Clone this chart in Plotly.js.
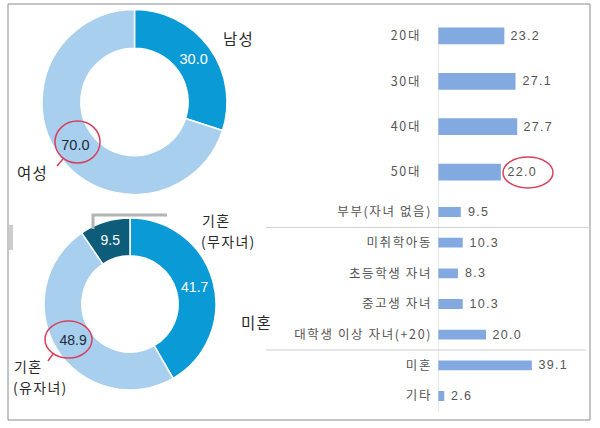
<!DOCTYPE html>
<html>
<head>
<meta charset="utf-8">
<script src="https://cdn.plot.ly/plotly-3.0.1.min.js"></script>
<style>
html,body{margin:0;padding:0;background:#fff;}
#chart{width:600px;height:428px;}
#chart .ytick text, #chart .y2tick text { letter-spacing: 1.6px; }
#chart .annotation-text { letter-spacing: 1.3px; }
</style>
</head>
<body>
<div id="chart"></div>
<script>
// ---- data ----
const genderLabels = ['남성', '여성'];
const genderValues = [30.0, 70.0];
const genderOuterText = ['남성', '여성'];

const familyLabels = ['미혼', '기혼(유자녀)', '기혼(무자녀)'];
const familyValues = [41.7, 48.9, 9.5];
const familyOuterLine1 = ['미혼', '기혼', '기혼'];
const familyOuterLine2 = ['', '(유자녀)', '(무자녀)'];

const ageCats = ['20대', '30대', '40대', '50대'];
const ageValues = [23.2, 27.1, 27.7, 22.0];

const typeCats = ['부부(자녀 없음)', '미취학아동', '초등학생 자녀', '중고생 자녀', '대학생 이상 자녀(+20)', '미혼', '기타'];
const typeValues = [9.5, 10.3, 8.3, 10.3, 20.0, 39.1, 2.6];

// ---- helpers (pixel -> paper) ----
const W = 600, H = 428;
const px = x => x / W;
const py = y => 1 - y / H;

const FONT = '"Liberation Sans", "Noto Sans CJK KR", sans-serif';
const KFONT = '"Noto Sans CJK KR", "Liberation Sans", sans-serif';
const cDark = '#0a9ad6', cLight = '#a9cfee', cTeal = '#0d5c7a', cBar = '#82aae0';

const traces = [
  {
    type: 'pie', labels: genderLabels, values: genderValues,
    text: genderValues.map(v => v.toFixed(1)), textinfo: 'text',
    textposition: 'inside', insidetextorientation: 'horizontal',
    sort: false, direction: 'clockwise', rotation: 0, hole: 0.58,
    marker: { colors: [cDark, cLight], line: { color: '#ffffff', width: 1.5 } },
    textfont: { family: FONT, size: 14.5, color: ['#ffffff', '#1c2b3c'] },
    domain: { x: [px(42), px(227)], y: [py(194.5), py(9.5)] },
    hoverinfo: 'none', showlegend: false, automargin: false
  },
  {
    type: 'pie', labels: familyLabels, values: familyValues,
    text: familyValues.map(v => v.toFixed(1)), textinfo: 'text',
    textposition: 'inside', insidetextorientation: 'horizontal',
    sort: false, direction: 'clockwise', rotation: 0, hole: 0.56,
    marker: { colors: [cDark, cLight, cTeal], line: { color: '#ffffff', width: 1.5 } },
    textfont: { family: FONT, size: 14, color: ['#ffffff', '#1c2b3c', '#ffffff'] },
    domain: { x: [px(44), px(216)], y: [py(390), py(218)] },
    hoverinfo: 'none', showlegend: false, automargin: false
  },
  {
    type: 'bar', orientation: 'h', x: ageValues, y: ageCats,
    xaxis: 'x', yaxis: 'y', width: 0.37,
    marker: { color: cBar }, hoverinfo: 'none', showlegend: false
  },
  {
    type: 'bar', orientation: 'h', x: typeValues, y: typeCats,
    xaxis: 'x2', yaxis: 'y2', width: 0.32,
    marker: { color: cBar }, hoverinfo: 'none', showlegend: false
  }
];

const annotations = [];
// donut outer labels
const lblFont = { family: KFONT, size: 15.5, color: '#2a2a2a' };
const lblFont2 = { family: KFONT, size: 14, color: '#2a2a2a' };
function lbl(text, x, y, f) {
  annotations.push({ xref: 'paper', yref: 'paper', x: px(x), y: py(y), xanchor: 'left', yanchor: 'middle', text: text, showarrow: false, font: f || lblFont, align: 'left' });
}
lbl(genderOuterText[0], 221, 38);
lbl(genderOuterText[1], 15, 172);
lbl(familyOuterLine1[0], 239, 322);
lbl(familyOuterLine1[1], 12, 366, lblFont2);
lbl(familyOuterLine2[1], 11, 387, lblFont2);
lbl(familyOuterLine1[2], 200, 219.5, lblFont2);
lbl(familyOuterLine2[2], 199, 240.5, lblFont2);

// bar value labels
const valFont = { family: FONT, size: 12.5, color: '#555555' };
ageCats.forEach((c, i) => annotations.push({ xref: 'x', yref: 'y', x: ageValues[i], y: c, xanchor: 'left', yanchor: 'middle', xshift: 7, text: ageValues[i].toFixed(1), showarrow: false, font: valFont }));
typeCats.forEach((c, i) => annotations.push({ xref: 'x2', yref: 'y2', x: typeValues[i], y: c, xanchor: 'left', yanchor: 'middle', xshift: 7, text: typeValues[i].toFixed(1), showarrow: false, font: valFont }));

const red = '#d8415c';
const shapes = [
  // outer frame
  { type: 'rect', xref: 'paper', yref: 'paper', x0: px(8), x1: px(590), y0: py(420), y1: py(4), line: { color: '#8a8a8a', width: 1 } },
  // shared vertical axis line of the bar charts
  { type: 'line', xref: 'x', yref: 'paper', x0: 0, x1: 0, y0: py(412), y1: py(25), line: { color: '#d4d4d4', width: 1 } },
  // group separators in lower bar chart
  { type: 'line', xref: 'paper', yref: 'y2', x0: px(266), x1: px(590), y0: 0.5, y1: 0.5, line: { color: '#cfcfcf', width: 1 } },
  { type: 'line', xref: 'paper', yref: 'y2', x0: px(266), x1: px(586), y0: 4.5, y1: 4.5, line: { color: '#cfcfcf', width: 1 } },
  // scan artefacts (grey bracket / bar)
  { type: 'path', xref: 'paper', yref: 'paper', path: `M${px(93)},${py(229)} L${px(93)},${py(215)} L${px(167)},${py(215)}`, line: { color: '#b4b4b4', width: 3 } },
  { type: 'rect', xref: 'paper', yref: 'paper', x0: px(9), x1: px(13), y0: py(250), y1: py(225), fillcolor: '#cccccc', line: { width: 0 } },
  // hand-drawn red circles
  { type: 'circle', xref: 'paper', yref: 'paper', x0: px(55), x1: px(100), y0: py(163), y1: py(121), line: { color: red, width: 1.5 } },
  { type: 'path', xref: 'paper', yref: 'paper', path: `M${px(63)},${py(159)} L${px(57)},${py(166)}`, line: { color: red, width: 1.5 } },
  { type: 'circle', xref: 'paper', yref: 'paper', x0: px(45), x1: px(92), y0: py(358), y1: py(321), line: { color: red, width: 1.5 } },
  { type: 'path', xref: 'paper', yref: 'paper', path: `M${px(53)},${py(354)} L${px(48)},${py(361)}`, line: { color: red, width: 1.5 } },
  { type: 'circle', xref: 'paper', yref: 'paper', x0: px(503), x1: px(553), y0: py(188), y1: py(157), line: { color: red, width: 1.5 } }
];

const yAxisCommon = {
  type: 'category', showgrid: false, zeroline: false, showline: false, ticks: '',
  tickfont: { family: KFONT, size: 12.5, color: '#555555' }, fixedrange: true
};
const xAxisCommon = { showgrid: false, zeroline: false, showline: false, showticklabels: false, ticks: '', fixedrange: true };

const layout = {
  width: W, height: H,
  margin: { l: 0, r: 0, t: 0, b: 0 },
  paper_bgcolor: '#ffffff', plot_bgcolor: 'rgba(0,0,0,0)',
  font: { family: KFONT },
  showlegend: false,
  xaxis: Object.assign({}, xAxisCommon, { domain: [px(438), px(581)], range: [0, 50], anchor: 'y' }),
  yaxis: Object.assign({}, yAxisCommon, { domain: [py(194.7), py(13.3)], range: [3.5, -0.5], anchor: 'x', ticklabelstandoff: 16 }),
  xaxis2: Object.assign({}, xAxisCommon, { domain: [px(438), px(582)], range: [0, 60], anchor: 'y2' }),
  yaxis2: Object.assign({}, yAxisCommon, { domain: [py(411.3), py(196.7)], range: [6.5, -0.5], anchor: 'x2', ticklabelstandoff: 5 }),
  annotations: annotations,
  shapes: shapes
};

Plotly.newPlot('chart', traces, layout, { displayModeBar: false, staticPlot: true });
</script>
</body>
</html>
